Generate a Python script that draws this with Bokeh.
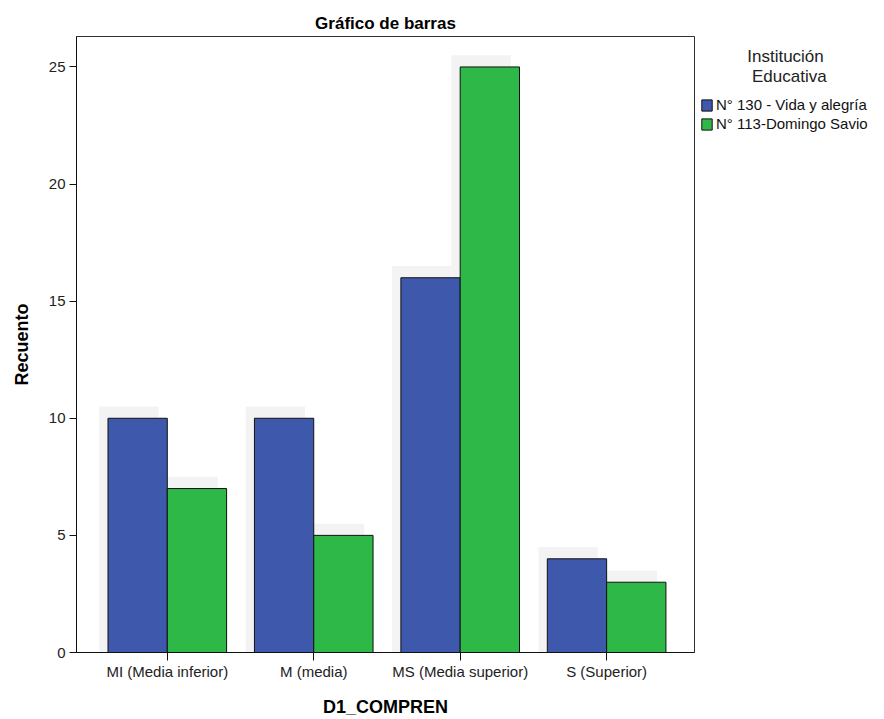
from bokeh.plotting import figure
from bokeh.models import Range1d, FixedTicker, Legend, LegendItem, ColumnDataSource
from bokeh.embed import file_html
from bokeh.resources import INLINE

categories = ["MI (Media inferior)", "M (media)", "MS (Media superior)", "S (Superior)"]
series_names = ["N° 130 - Vida y alegría", "N° 113-Domingo Savio"]
legend_title = ["Institución", "Educativa"]
vida_alegria = [10, 10, 16, 4]
domingo_savio = [7, 5, 25, 3]
y_ticks = [0, 5, 10, 15, 20, 25]

colors = ["#3E58AC", "#2EB848"]
FONT = "Liberation Sans"
NBSP = "\u00a0"

idx = list(range(len(categories)))
bw = 0.405
off = bw / 2

p = figure(frame_width=618, frame_height=616, output_backend="svg", toolbar_location=None,
           x_range=Range1d(-0.62, 3.60), y_range=Range1d(0, 26.3),
           min_border_left=76, min_border_right=0, min_border_top=36, min_border_bottom=59,
           title="Gráfico de barras")
p.background_fill_color = "white"
p.border_fill_color = "white"
p.outline_line_color = "#333333"
p.outline_line_width = 1
p.grid.visible = False

p.title.align = "center"
p.title.text_font = FONT
p.title.text_font_size = "17px"
p.title.text_font_style = "bold"
p.title.text_color = "#000000"
p.title.standoff = 8

# faint drop shadows
for vals, sign in ((vida_alegria, -1), (domingo_savio, 1)):
    src = ColumnDataSource(dict(x=[i + sign * off - 0.06 for i in idx], top=[v + 0.5 for v in vals]))
    p.vbar(x="x", top="top", width=bw, bottom=0, source=src, fill_color="#f3f3f3",
           line_color=None)

renderers = []
for vals, sign, c in ((vida_alegria, -1, colors[0]), (domingo_savio, 1, colors[1])):
    src = ColumnDataSource(dict(x=[i + sign * off for i in idx], top=vals))
    r = p.vbar(x="x", top="top", width=bw, bottom=0, source=src, fill_color=c,
               line_color="#111111", line_width=1)
    renderers.append(r)

xa = p.xaxis[0]
xa.ticker = FixedTicker(ticks=idx)
xa.major_label_overrides = {i: c for i, c in zip(idx, categories)}
xa.minor_tick_line_color = None
xa.major_tick_out = 8
xa.major_tick_in = 0
xa.axis_line_color = "#111111"
xa.major_tick_line_color = "#111111"
xa.major_label_text_font = FONT
xa.major_label_text_font_size = "15px"
xa.major_label_text_color = "#222222"
xa.major_label_standoff = 2
xa.axis_label = "D1_COMPREN"
xa.axis_label_text_font = FONT
xa.axis_label_text_font_size = "18px"
xa.axis_label_text_font_style = "bold"
xa.axis_label_text_color = "#000000"
xa.axis_label_standoff = 14

ya = p.yaxis[0]
ya.ticker = FixedTicker(ticks=y_ticks)
ya.minor_tick_line_color = None
ya.major_tick_out = 7
ya.major_tick_in = 0
ya.axis_line_color = "#111111"
ya.major_tick_line_color = "#111111"
ya.major_label_text_font = FONT
ya.major_label_text_font_size = "15px"
ya.major_label_text_color = "#222222"
ya.major_label_standoff = 4
ya.axis_label = "Recuento"
ya.axis_label_text_font = FONT
ya.axis_label_text_font_size = "18px"
ya.axis_label_text_font_style = "bold"
ya.axis_label_text_color = "#000000"
ya.axis_label_standoff = 14

# legend title lines centred over the items with non-breaking spaces
title_text = NBSP * 10 + legend_title[0] + "\n" + NBSP * 11 + legend_title[1]

legend = Legend(items=[LegendItem(label=n, renderers=[r]) for n, r in zip(series_names, renderers)],
                location=(6, 520), title=title_text)
legend.title_text_font = FONT
legend.title_text_font_size = "17px"
legend.title_text_font_style = "normal"
legend.title_text_color = "#222222"
legend.title_text_line_height = 1.05
legend.title_standoff = 9
legend.label_text_font = FONT
legend.label_text_font_size = "15px"
legend.label_text_color = "#111111"
legend.glyph_width = 13
legend.glyph_height = 14
legend.label_standoff = 3
legend.label_height = 17
legend.spacing = 2
legend.padding = 0
legend.margin = 0
legend.border_line_color = None
legend.background_fill_alpha = 0
p.add_layout(legend, "right")

open("out.html", "w").write(file_html(p, INLINE))
